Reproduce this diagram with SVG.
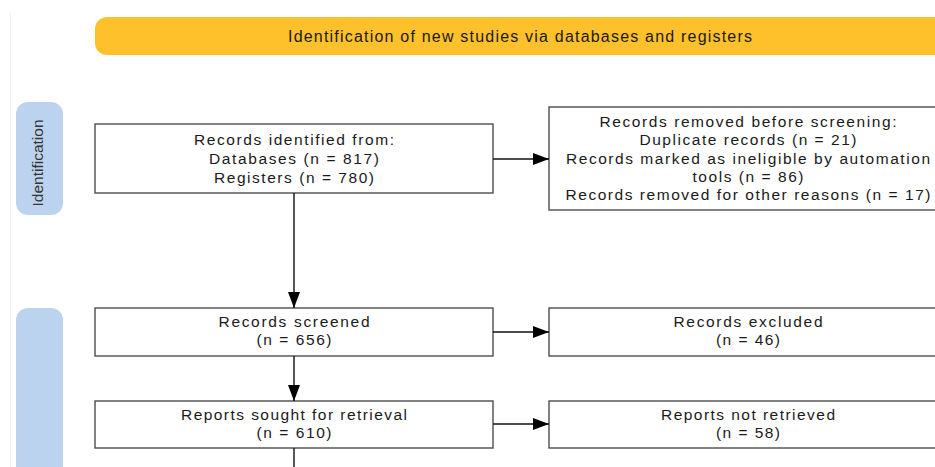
<svg xmlns="http://www.w3.org/2000/svg" width="935" height="467" viewBox="0 0 935 467">
<style>
  .box{fill:#fff;stroke:#4d4d4d;stroke-width:1.4}
  .t{font-family:"Liberation Sans",Arial,sans-serif;font-size:15.5px;fill:#1a1a1a;text-anchor:middle}
  .banner-t{font-family:"Liberation Sans",Arial,sans-serif;font-size:16px;fill:#1a1a1a;text-anchor:middle}
  .side{fill:#bcd3ef}
  .side-t{font-family:"Liberation Sans",Arial,sans-serif;font-size:15.5px;fill:#333;text-anchor:middle}
  .conn{stroke:#111;stroke-width:1.4;fill:none}
</style>
<defs>
  <marker id="arr" markerWidth="16" markerHeight="12" refX="16" refY="6" orient="auto" markerUnits="userSpaceOnUse">
    <path d="M0,0 L16,6 L0,12 Z" fill="#000"/>
  </marker>
</defs>
<rect width="935" height="467" fill="#fff"/>
<line x1="10.5" y1="13" x2="10.5" y2="467" stroke="#efefef" stroke-width="1"/>

<g id="banner">
  <rect x="95" y="17" width="880" height="38" rx="12" fill="#fec12b"/>
  <text class="banner-t" x="520" y="42" textLength="464">Identification of new studies via databases and registers</text>
</g>

<g id="label-identification">
  <rect class="side" x="16" y="102" width="47" height="113" rx="12"/>
  <text class="side-t" transform="translate(43,163) rotate(-90)">Identification</text>
</g>

<g id="label-screening">
  <rect class="side" x="16" y="308" width="47" height="200" rx="12"/>
</g>

<g id="records-identified">
  <rect class="box" x="95" y="124" width="398" height="69"/>
  <text class="t" x="294" y="145" textLength="200">Records identified from:</text>
  <text class="t" x="294" y="164" textLength="170">Databases (n = 817)</text>
  <text class="t" x="294" y="183" textLength="160">Registers (n = 780)</text>
</g>

<g id="records-removed">
  <rect class="box" x="549" y="107" width="398" height="103"/>
  <text class="t" x="748" y="127" textLength="297">Records removed before screening:</text>
  <text class="t" x="748" y="145" textLength="217">Duplicate records (n = 21)</text>
  <text class="t" x="748" y="163.5" textLength="364">Records marked as ineligible by automation</text>
  <text class="t" x="748" y="182" textLength="111">tools (n = 86)</text>
  <text class="t" x="748" y="200" textLength="365">Records removed for other reasons (n = 17)</text>
</g>

<g id="records-screened">
  <rect class="box" x="95" y="308" width="398" height="48"/>
  <text class="t" x="294" y="327" textLength="151">Records screened</text>
  <text class="t" x="294" y="345" textLength="75">(n = 656)</text>
</g>

<g id="records-excluded">
  <rect class="box" x="549" y="308" width="398" height="48"/>
  <text class="t" x="748" y="327" textLength="149">Records excluded</text>
  <text class="t" x="748" y="345" textLength="64">(n = 46)</text>
</g>

<g id="reports-sought">
  <rect class="box" x="95" y="401" width="398" height="47"/>
  <text class="t" x="294" y="420" textLength="226">Reports sought for retrieval</text>
  <text class="t" x="294" y="438" textLength="75">(n = 610)</text>
</g>

<g id="reports-not-retrieved">
  <rect class="box" x="549" y="401" width="398" height="47"/>
  <text class="t" x="748" y="420" textLength="174">Reports not retrieved</text>
  <text class="t" x="748" y="438" textLength="64">(n = 58)</text>
</g>

<g id="connectors">
  <line class="conn" x1="493" y1="159" x2="549" y2="159" marker-end="url(#arr)"/>
  <line class="conn" x1="294" y1="193" x2="294" y2="308" marker-end="url(#arr)"/>
  <line class="conn" x1="493" y1="332" x2="549" y2="332" marker-end="url(#arr)"/>
  <line class="conn" x1="294" y1="356" x2="294" y2="401" marker-end="url(#arr)"/>
  <line class="conn" x1="493" y1="424" x2="549" y2="424" marker-end="url(#arr)"/>
  <line class="conn" x1="294" y1="448" x2="294" y2="467"/>
</g>
</svg>
